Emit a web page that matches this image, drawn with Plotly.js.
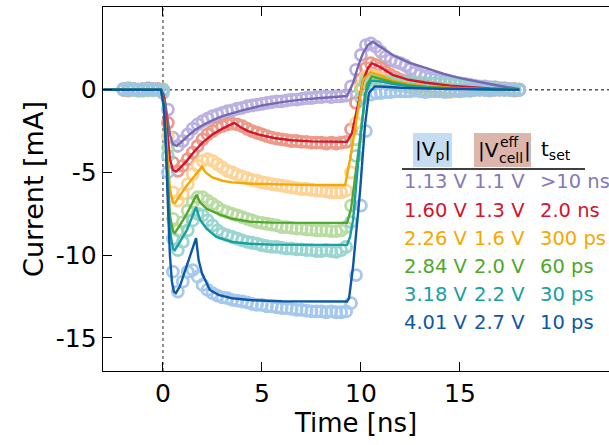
<!DOCTYPE html>
<html>
<head>
<meta charset="utf-8">
<script src="https://cdn.plot.ly/plotly-3.0.1.min.js"></script>
<style>html,body{margin:0;padding:0;background:#fff;}#chart{width:609px;height:445px;}</style>
</head>
<body>
<div id="chart"></div>
<script>
// ---------- data ----------
const seriesNames = ['purple', 'red', 'orange', 'green', 'teal', 'blue'];
const vpLabels = ['1.13 V', '1.60 V', '2.26 V', '2.84 V', '3.18 V', '4.01 V'];
const vcellLabels = ['1.1 V', '1.3 V', '1.6 V', '2.0 V', '2.2 V', '2.7 V'];
const tsetLabels = ['&gt;10 ns', '2.0 ns', '300 ps', '60 ps', '30 ps', '10 ps'];
const xTicks = [0, 5, 10, 15];
const yTicks = [-15, -10, -5, 0];

// measured time points (ns)
const tMeas = [
 -2.0, -1.75, -1.5, -1.25,  -1.0, -0.75, -0.5, -0.25,
  0.0, 0.25, 0.5, 0.75,  1.0, 1.25, 1.5, 1.75,  2.0, 2.25, 2.5, 2.75,
  3.0, 3.25, 3.5, 3.75,  4.0, 4.25, 4.5, 4.75,  5.0, 5.25, 5.5, 5.75,
  6.0, 6.25, 6.5, 6.75,  7.0, 7.25, 7.5, 7.75,  8.0, 8.25, 8.5, 8.75,
  9.0, 9.25, 9.5, 9.75,  10.0, 10.25, 10.5, 10.75,  11.0, 11.25, 11.5, 11.75,
  12.0, 12.25, 12.5, 12.75,  13.0, 13.25, 13.5, 13.75,  14.0, 14.25, 14.5, 14.75,
  15.0, 15.25, 15.5, 15.75,  16.0, 16.25, 16.5, 16.75,  17.0, 17.25, 17.5, 17.75,
  18.0];

const measPurple = [
  0.05, 0.10, 0.00, -0.05,  0.05, 0.10, 0.05, 0.00,
  0.00, -1.2, -2.9, -3.4,  -3.1, -2.7, -2.35, -2.1,  -1.9, -1.75, -1.6, -1.5,
  -1.4, -1.3, -1.25, -1.15,  -1.1, -1.0, -0.95, -0.9,  -0.85, -0.8, -0.75, -0.7,
  -0.7, -0.65, -0.6, -0.6,  -0.55, -0.5, -0.5, -0.45,  -0.45, -0.4, -0.45, -0.4,
  -0.4, -0.35, 0.2, 1.2,  2.1, 2.7, 2.8, 2.6,  2.3, 2.0, 1.8, 1.7,
  1.6, 1.45, 1.25, 1.05,  0.9, 0.8, 0.7, 0.65,  0.6, 0.55, 0.5, 0.45,
  0.4, 0.35, 0.3, 0.25,  0.2, 0.2, 0.15, 0.15,  0.1, 0.1, 0.05, 0.05,
  0.0];
const measRed = [
  0.0, -0.05, 0.05, 0.0,  -0.05, 0.05, 0.0, 0.05,
  0.0, -2.0, -4.4, -4.9,  -4.6, -4.2, -3.8, -3.4,  -3.0, -2.7, -2.5, -2.3,
  -2.2, -2.1, -2.05, -2.1,  -2.2, -2.35, -2.5, -2.6,  -2.7, -2.8, -2.9, -2.95,
  -3.0, -3.05, -3.1, -3.1,  -3.15, -3.15, -3.2, -3.2,  -3.2, -3.25, -3.2, -3.25,
  -3.2, -3.15, -2.4, -0.8,  0.6, 1.3, 1.6, 1.5,  1.3, 1.1, 0.9, 0.75,
  0.6, 0.5, 0.4, 0.3,  0.25, 0.2, 0.15, 0.1,  0.1, 0.05, 0.05, 0.0,
  0.0, 0.05, 0.0, 0.0,  0.05, 0.0, 0.0, 0.0,  0.05, 0.0, 0.0, -0.05,
  0.0];
const measOrange = [
  0.0, 0.05, 0.0, 0.0,  0.05, 0.0, -0.05, 0.0,
  0.0, -2.8, -6.2, -6.7,  -6.3, -5.7, -5.1, -4.6,  -4.3, -4.2, -4.3, -4.5,
  -4.7, -4.9, -5.0, -5.15,  -5.25, -5.35, -5.45, -5.5,  -5.6, -5.65, -5.7, -5.75,
  -5.8, -5.85, -5.9, -5.95,  -6.0, -6.0, -6.05, -6.1,  -6.1, -6.15, -6.2, -6.2,
  -6.2, -6.1, -5.0, -2.0,  0.2, 0.8, 0.9, 0.8,  0.7, 0.6, 0.5, 0.4,
  0.35, 0.3, 0.2, 0.15,  0.1, 0.05, 0.0, -0.05,  -0.1, -0.1, -0.15, -0.1,
  -0.1, -0.05, -0.05, 0.0,  0.0, 0.0, 0.05, 0.0,  0.0, 0.0, 0.0, 0.0,
  0.0];
const measGreen = [
  0.0, 0.0, 0.05, 0.0,  0.0, -0.05, 0.0, 0.0,
  0.0, -3.5, -7.8, -8.5,  -8.0, -7.3, -6.8, -6.5,  -6.5, -6.7, -6.9, -7.1,
  -7.3, -7.4, -7.5, -7.6,  -7.7, -7.8, -7.9, -8.0,  -8.05, -8.1, -8.15, -8.2,
  -8.3, -8.3, -8.35, -8.4,  -8.4, -8.45, -8.45, -8.5,  -8.5, -8.5, -8.55, -8.55,
  -8.5, -8.3, -7.0, -3.0,  0.0, 0.6, 0.7, 0.6,  0.5, 0.4, 0.35, 0.3,
  0.25, 0.2, 0.15, 0.1,  0.1, 0.05, 0.05, 0.0,  0.0, 0.05, 0.0, 0.0,
  0.0, 0.0, -0.05, 0.0,  0.0, 0.0, 0.0, 0.05,  0.0, 0.0, 0.0, 0.0,
  0.0];
const measTeal = [
  0.0, 0.05, 0.0, -0.05,  0.0, 0.05, 0.0, 0.0,
  0.0, -4.0, -9.0, -9.7,  -9.2, -8.5, -7.9, -7.5,  -7.6, -7.9, -8.2, -8.5,
  -8.7, -8.8, -8.9, -9.0,  -9.1, -9.2, -9.25, -9.3,  -9.4, -9.45, -9.5, -9.5,
  -9.55, -9.6, -9.6, -9.65,  -9.65, -9.7, -9.7, -9.75,  -9.75, -9.7, -9.75, -9.8,
  -9.7, -9.5, -8.0, -4.0,  -0.5, 0.4, 0.6, 0.55,  0.5, 0.5, 0.45, 0.45,
  0.45, 0.45, 0.45, 0.4,  0.45, 0.4, 0.4, 0.4,  0.4, 0.35, 0.35, 0.3,
  0.3, 0.25, 0.2, 0.2,  0.15, 0.1, 0.1, 0.05,  0.05, 0.0, 0.0, 0.0,
  0.0];
const measBlue = [
  0.0, 0.0, 0.05, 0.0,  0.05, 0.0, 0.0, 0.0,
  -0.2, -5.0, -11.0, -12.2,  -11.6, -11.0, -10.9, -11.3,  -11.8, -12.1, -12.3, -12.45,
  -12.55, -12.6, -12.7, -12.75,  -12.8, -12.85, -12.95, -13.0,  -13.0, -13.1, -13.1, -13.15,
  -13.2, -13.2, -13.25, -13.3,  -13.3, -13.35, -13.4, -13.4,  -13.4, -13.45, -13.4, -13.45,
  -13.45, -13.4, -12.9, -11.2,  -7.0, -2.5, -0.3, -0.2,  -0.2, -0.15, -0.15, -0.1,
  -0.1, -0.1, -0.1, -0.05,  -0.1, -0.15, -0.1, -0.1,  -0.1, -0.15, -0.1, -0.05,
  -0.1, -0.05, -0.05, 0.0,  0.0, 0.0, -0.05, 0.0,  0.0, 0.0, 0.0, 0.0,
  0.0];

// simulated (fit) curves
const simPurpleT = [-3, -0.1, 0.05, 0.2, 0.35, 0.5, 0.7, 0.9, 1.2, 1.6, 2.0, 2.5, 3.0, 4.0, 5.0, 6.0, 7.0, 8.0, 9.0, 9.3, 9.6, 9.85, 10.1, 10.35, 10.6, 11.0, 11.6, 12.4, 13.3, 14.2, 15.0, 16.0, 16.7, 17.4, 18.0];
const simPurpleI = [0, 0, -0.3, -1.6, -2.7, -3.3, -3.4, -3.2, -2.85, -2.45, -2.15, -1.85, -1.6, -1.25, -0.95, -0.75, -0.6, -0.5, -0.4, -0.38, 0.4, 1.4, 2.2, 2.7, 2.9, 2.6, 2.1, 1.65, 1.3, 0.95, 0.7, 0.45, 0.3, 0.15, 0.05];
const simRedT = [-3, -0.1, 0.05, 0.2, 0.35, 0.5, 0.65, 0.85, 1.2, 1.6, 2.0, 2.5, 3.0, 3.6, 3.9, 4.3, 4.8, 5.6, 6.5, 7.5, 8.5, 9.3, 9.55, 9.8, 10.1, 10.35, 10.55, 11.0, 11.6, 12.4, 13.3, 14.5, 15.5, 16.5, 18.0];
const simRedI = [0, 0, -0.5, -2.5, -4.2, -4.85, -4.95, -4.75, -4.3, -3.7, -3.2, -2.7, -2.35, -2.0, -2.25, -2.5, -2.7, -2.92, -3.05, -3.12, -3.15, -3.15, -2.6, -1.2, 0.5, 1.3, 1.6, 1.35, 0.9, 0.6, 0.42, 0.25, 0.15, 0.08, 0.0];
const simOrangeT = [-3, -0.1, 0.05, 0.2, 0.35, 0.5, 0.6, 0.8, 1.2, 1.6, 1.97, 2.15, 2.5, 3.0, 3.5, 4.5, 5.5, 7.0, 8.5, 9.2, 9.45, 9.8, 10.1, 10.5, 11.0, 11.6, 12.4, 13.3, 14.5, 16.0, 18.0];
const simOrangeI = [0, 0, -0.8, -3.5, -6.0, -6.8, -6.85, -6.5, -5.8, -5.2, -4.65, -5.0, -5.3, -5.5, -5.6, -5.68, -5.72, -5.75, -5.76, -5.76, -4.2, -1.6, 0.6, 1.05, 0.85, 0.55, 0.35, 0.22, 0.12, 0.05, 0];
const simGreenT = [-3, -0.1, 0.05, 0.2, 0.35, 0.5, 0.6, 0.8, 1.2, 1.7, 1.87, 2.2, 2.88, 3.5, 4.4, 5.5, 7.0, 9.3, 9.5, 9.7, 10.05, 10.3, 10.55, 11.0, 11.6, 12.4, 13.3, 14.5, 16.0, 18.0];
const simGreenI = [0, 0, -1.0, -4.5, -7.6, -8.55, -8.65, -8.3, -7.5, -6.35, -6.8, -7.2, -7.55, -7.8, -7.98, -8.03, -8.05, -8.05, -7.2, -5.3, -1.8, 0.3, 0.8, 0.65, 0.45, 0.28, 0.17, 0.09, 0.04, 0];
const simTealT = [-3, -0.1, 0.05, 0.2, 0.35, 0.5, 0.6, 0.8, 1.2, 1.67, 1.87, 2.2, 2.7, 3.5, 4.5, 5.5, 7.0, 9.3, 9.45, 9.6, 9.95, 10.2, 10.5, 11.0, 11.6, 12.4, 13.3, 14.5, 16.0, 18.0];
const simTealI = [0, 0, -1.2, -5.0, -8.5, -9.6, -9.7, -9.3, -8.5, -7.1, -7.85, -8.4, -8.9, -9.2, -9.32, -9.36, -9.38, -9.38, -8.9, -7.9, -3.2, -0.3, 0.55, 0.5, 0.35, 0.22, 0.13, 0.07, 0.03, 0];
const simBlueT = [-3, -0.1, 0.05, 0.15, 0.25, 0.35, 0.45, 0.55, 0.65, 0.85, 1.1, 1.4, 1.67, 1.8, 1.97, 2.37, 2.8, 3.5, 4.5, 6.0, 9.3, 9.4, 9.6, 9.95, 10.2, 10.4, 10.7, 11.2, 12.0, 14.0, 18.0];
const simBlueI = [0, 0, -1.0, -3.5, -7.0, -10.0, -11.6, -12.2, -12.3, -11.9, -11.0, -10.0, -8.97, -10.3, -11.1, -12.1, -12.4, -12.6, -12.72, -12.78, -12.8, -12.6, -10.7, -6.2, -2.2, -0.2, 0.2, 0.18, 0.12, 0.05, 0];

// ---------- styles ----------
const lineColors = ['#7668b2', '#d3142c', '#f5a800', '#4fa82a', '#16a1a0', '#0d58a5'];
const markColors = ['#b5aadf', '#e9917d', '#fdcf8c', '#b4d89b', '#90d1cd', '#9dc3eb'];
const textColors = ['#8579b9', '#d3142c', '#f5a800', '#4fa82a', '#16a1a0', '#0d58a5'];
const FONT = 'DejaVu Sans, Verdana, sans-serif';

const meas = [measPurple, measRed, measOrange, measGreen, measTeal, measBlue];
const simT = [simPurpleT, simRedT, simOrangeT, simGreenT, simTealT, simBlueT];
const simI = [simPurpleI, simRedI, simOrangeI, simGreenI, simTealI, simBlueI];

const traces = [];
for (let k = 0; k < 6; k++) {
  traces.push({
    x: tMeas, y: meas[k], type: 'scatter', mode: 'markers', name: seriesNames[k] + ' meas',
    marker: {symbol: 'circle-open', size: 11, color: markColors[k], line: {width: 2.8, color: markColors[k]}},
    opacity: 0.9, hoverinfo: 'skip', showlegend: false
  });
}
for (let k = 0; k < 6; k++) {
  traces.push({
    x: simT[k], y: simI[k], type: 'scatter', mode: 'lines', name: seriesNames[k] + ' sim',
    line: {color: lineColors[k], width: 2.4}, hoverinfo: 'skip', showlegend: false
  });
}

// pixel helpers for the table (plot area: x 103..609, y 7..371)
const L = 103, R = 609, T = 7, B = 371;
const px = v => (v - L) / (R - L);
const py = v => (B - v) / (B - T);

const annotations = [];
const colX = [402, 472, 538];
const rowY0 = 182, rowDY = 28;
for (let k = 0; k < 6; k++) {
  const cols = [vpLabels[k], vcellLabels[k], tsetLabels[k]];
  for (let c = 0; c < 3; c++) {
    annotations.push({
      xref: 'paper', yref: 'paper', x: px(colX[c]), y: py(rowY0 + rowDY * k),
      xanchor: 'left', yanchor: 'middle', showarrow: false, text: cols[c],
      font: {family: FONT, size: 19.5, color: textColors[k]}
    });
  }
}
// header
const hdr = (x, y, t, size, anchor) => annotations.push({
  xref: 'paper', yref: 'paper', x: px(x), y: py(y), xanchor: anchor || 'left', yanchor: 'middle',
  showarrow: false, text: t, font: {family: FONT, size: size, color: '#000'}
});
hdr(433, 150, '|V<sub>p</sub>|', 20, 'center');
hdr(476, 150, '|V', 20);
hdr(498, 142, 'eff', 14);
hdr(497, 158, 'cell', 14);
hdr(522, 150, '|', 20);
hdr(539, 150, 't<sub>set</sub>', 20);

const shapes = [
  {type: 'line', xref: 'x', yref: 'y', x0: 0, x1: 0, y0: -17, y1: 5, layer: 'below', line: {color: '#555', width: 1.3, dash: 'dot'}},
  {type: 'line', xref: 'x', yref: 'y', x0: -3.03, x1: 22.53, y0: 0, y1: 0, layer: 'below', line: {color: '#555', width: 1.3, dash: 'dot'}},
  {type: 'rect', xref: 'paper', yref: 'paper', x0: px(413), x1: px(452), y0: py(167), y1: py(133), layer: 'below', fillcolor: '#c6dcf0', line: {width: 0}},
  {type: 'rect', xref: 'paper', yref: 'paper', x0: px(474), x1: px(531), y0: py(167), y1: py(133), layer: 'below', fillcolor: '#dcb6ad', line: {width: 0}},
  {type: 'line', xref: 'paper', yref: 'paper', x0: px(402), x1: px(585), y0: py(169), y1: py(169), line: {color: '#000', width: 1.5}}
];

const layout = {
  width: 609, height: 445,
  margin: {l: L, r: 609 - R, t: T, b: 445 - B, pad: 0},
  paper_bgcolor: '#fff', plot_bgcolor: '#fff',
  showlegend: false,
  font: {family: FONT, color: '#000'},
  xaxis: {
    range: [-3.03, 22.53], tickvals: xTicks, ticktext: xTicks.map(String),
    ticks: 'inside', ticklen: 9, tickwidth: 1, tickcolor: '#000',
    showline: true, linecolor: '#000', linewidth: 1.3, mirror: 'ticks',
    showgrid: false, zeroline: false,
    tickfont: {family: FONT, size: 25, color: '#000'},
    title: {text: 'Time [ns]', font: {family: FONT, size: 26, color: '#000'}, standoff: 6},
    automargin: false
  },
  yaxis: {
    range: [-17, 5], tickvals: yTicks, ticktext: yTicks.map(String),
    ticks: 'inside', ticklen: 9, tickwidth: 1, tickcolor: '#000',
    showline: true, linecolor: '#000', linewidth: 1.3, mirror: false,
    showgrid: false, zeroline: false,
    tickfont: {family: FONT, size: 25, color: '#000'},
    title: {text: 'Current [mA]', font: {family: FONT, size: 27, color: '#000'}, standoff: 4},
    automargin: false
  },
  shapes: shapes,
  annotations: annotations
};

Plotly.newPlot('chart', traces, layout, {staticPlot: true, displayModeBar: false});
</script>
</body>
</html>
